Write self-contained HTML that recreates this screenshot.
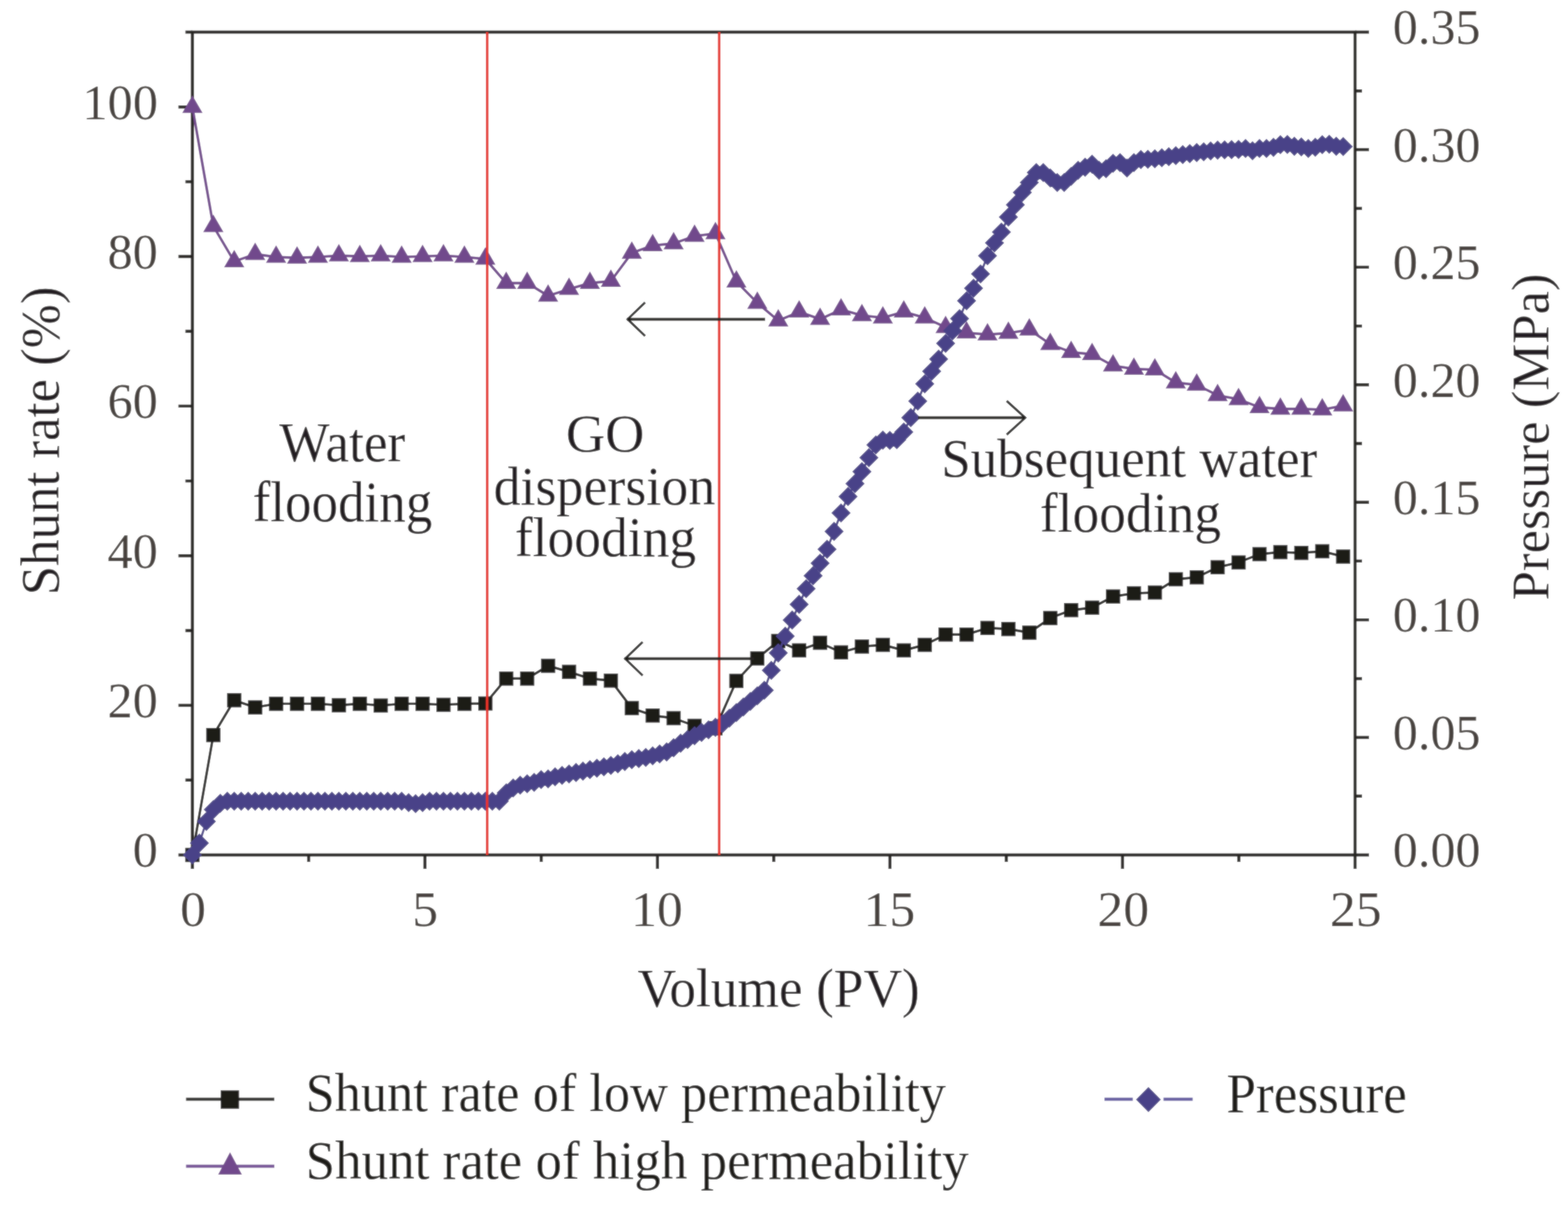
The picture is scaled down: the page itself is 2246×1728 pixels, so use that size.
<!DOCTYPE html>
<html><head><meta charset="utf-8"><title>Shunt rate and pressure vs volume</title>
<style>html,body{margin:0;padding:0;background:#fff}svg{display:block}</style></head>
<body>
<svg width="2246" height="1728" viewBox="0 0 2246 1728" font-family="Liberation Serif, serif">
<defs><filter id="bl" x="0" y="0" width="1" height="1"><feGaussianBlur in="SourceGraphic" stdDeviation="1.0" result="b"/><feComposite in="SourceGraphic" in2="b" operator="arithmetic" k1="0" k2="0.5" k3="0.5" k4="0"/></filter></defs>
<rect width="2246" height="1728" fill="#fff"/>
<g filter="url(#bl)">
<rect width="2246" height="1728" fill="#fff"/>
<path d="M275.6,46.0H1941.0V1225.0H275.6Z" fill="none" stroke="#262420" stroke-width="4.4"/>
<path d="M275.6,1225.0h-20M275.6,1117.8h-10M275.6,1010.6h-20M275.6,903.5h-10M275.6,796.3h-20M275.6,689.1h-10M275.6,581.9h-20M275.6,474.7h-10M275.6,367.5h-20M275.6,260.4h-10M275.6,153.2h-20M275.6,46.0h-10M1941.0,1225.0h20M1941.0,1140.8h10M1941.0,1056.6h20M1941.0,972.4h10M1941.0,888.1h20M1941.0,803.9h10M1941.0,719.7h20M1941.0,635.5h10M1941.0,551.3h20M1941.0,467.1h10M1941.0,382.9h20M1941.0,298.6h10M1941.0,214.4h20M1941.0,130.2h10M1941.0,46.0h20M275.6,1225.0v20M442.1,1225.0v10M608.7,1225.0v20M775.2,1225.0v10M941.8,1225.0v20M1108.3,1225.0v10M1274.8,1225.0v20M1441.4,1225.0v10M1607.9,1225.0v20M1774.5,1225.0v10M1941.0,1225.0v20" stroke="#262420" stroke-width="4.4" fill="none"/>
<polyline points="275.6,1225.0 305.6,1053.2 335.5,1003.3 365.5,1013.6 395.5,1008.4 425.5,1008.4 455.4,1008.4 485.4,1010.5 515.4,1008.4 545.3,1010.9 575.3,1008.4 605.3,1008.4 635.2,1009.9 665.2,1008.4 695.2,1008.0 725.1,972.3 755.1,972.3 785.1,954.0 815.1,962.7 845.0,972.3 875.0,975.2 905.0,1014.6 934.9,1025.2 964.9,1029.0 994.9,1040.0 1024.8,1043.5 1054.8,975.6 1084.8,943.4 1114.8,918.5 1144.7,931.9 1174.7,921.0 1204.7,934.8 1234.6,926.4 1264.6,924.0 1294.6,931.9 1324.6,924.0 1354.5,909.2 1384.5,909.2 1414.5,899.8 1444.4,901.3 1474.4,906.5 1504.4,885.6 1534.3,874.2 1564.3,870.7 1594.3,854.7 1624.2,850.1 1654.2,849.0 1684.2,830.0 1714.2,827.2 1744.1,812.8 1774.1,805.9 1804.1,794.0 1834.0,791.1 1864.0,792.2 1894.0,789.9 1923.9,797.5" fill="none" stroke="#1c1a17" stroke-width="3.4" stroke-linejoin="round"/>
<g fill="#1c1a17"><rect x="265.4" y="1214.8" width="20.4" height="20.4"/><rect x="295.4" y="1043.0" width="20.4" height="20.4"/><rect x="325.3" y="993.1" width="20.4" height="20.4"/><rect x="355.3" y="1003.4" width="20.4" height="20.4"/><rect x="385.3" y="998.2" width="20.4" height="20.4"/><rect x="415.3" y="998.2" width="20.4" height="20.4"/><rect x="445.2" y="998.2" width="20.4" height="20.4"/><rect x="475.2" y="1000.3" width="20.4" height="20.4"/><rect x="505.2" y="998.2" width="20.4" height="20.4"/><rect x="535.1" y="1000.7" width="20.4" height="20.4"/><rect x="565.1" y="998.2" width="20.4" height="20.4"/><rect x="595.1" y="998.2" width="20.4" height="20.4"/><rect x="625.0" y="999.7" width="20.4" height="20.4"/><rect x="655.0" y="998.2" width="20.4" height="20.4"/><rect x="685.0" y="997.8" width="20.4" height="20.4"/><rect x="714.9" y="962.1" width="20.4" height="20.4"/><rect x="744.9" y="962.1" width="20.4" height="20.4"/><rect x="774.9" y="943.8" width="20.4" height="20.4"/><rect x="804.9" y="952.5" width="20.4" height="20.4"/><rect x="834.8" y="962.1" width="20.4" height="20.4"/><rect x="864.8" y="965.0" width="20.4" height="20.4"/><rect x="894.8" y="1004.4" width="20.4" height="20.4"/><rect x="924.7" y="1015.0" width="20.4" height="20.4"/><rect x="954.7" y="1018.8" width="20.4" height="20.4"/><rect x="984.7" y="1029.8" width="20.4" height="20.4"/><rect x="1014.6" y="1033.3" width="20.4" height="20.4"/><rect x="1044.6" y="965.4" width="20.4" height="20.4"/><rect x="1074.6" y="933.2" width="20.4" height="20.4"/><rect x="1104.6" y="908.3" width="20.4" height="20.4"/><rect x="1134.5" y="921.7" width="20.4" height="20.4"/><rect x="1164.5" y="910.8" width="20.4" height="20.4"/><rect x="1194.5" y="924.6" width="20.4" height="20.4"/><rect x="1224.4" y="916.2" width="20.4" height="20.4"/><rect x="1254.4" y="913.8" width="20.4" height="20.4"/><rect x="1284.4" y="921.7" width="20.4" height="20.4"/><rect x="1314.4" y="913.8" width="20.4" height="20.4"/><rect x="1344.3" y="899.0" width="20.4" height="20.4"/><rect x="1374.3" y="899.0" width="20.4" height="20.4"/><rect x="1404.3" y="889.6" width="20.4" height="20.4"/><rect x="1434.2" y="891.1" width="20.4" height="20.4"/><rect x="1464.2" y="896.3" width="20.4" height="20.4"/><rect x="1494.2" y="875.4" width="20.4" height="20.4"/><rect x="1524.1" y="864.0" width="20.4" height="20.4"/><rect x="1554.1" y="860.5" width="20.4" height="20.4"/><rect x="1584.1" y="844.5" width="20.4" height="20.4"/><rect x="1614.0" y="839.9" width="20.4" height="20.4"/><rect x="1644.0" y="838.8" width="20.4" height="20.4"/><rect x="1674.0" y="819.8" width="20.4" height="20.4"/><rect x="1704.0" y="817.0" width="20.4" height="20.4"/><rect x="1733.9" y="802.6" width="20.4" height="20.4"/><rect x="1763.9" y="795.7" width="20.4" height="20.4"/><rect x="1793.9" y="783.8" width="20.4" height="20.4"/><rect x="1823.8" y="780.9" width="20.4" height="20.4"/><rect x="1853.8" y="782.0" width="20.4" height="20.4"/><rect x="1883.8" y="779.7" width="20.4" height="20.4"/><rect x="1913.7" y="787.3" width="20.4" height="20.4"/></g>
<polyline points="275.6,153.5 305.6,324.2 335.5,374.6 365.5,364.1 395.5,368.3 425.5,369.4 455.4,368.3 485.4,366.2 515.4,367.2 545.3,366.2 575.3,368.3 605.3,367.2 635.2,366.2 665.2,368.3 695.2,371.0 725.1,405.6 755.1,405.6 785.1,423.9 815.1,414.2 845.0,405.6 875.0,402.7 905.0,362.4 934.9,351.8 964.9,348.9 994.9,338.3 1024.8,334.5 1054.8,403.6 1084.8,434.1 1114.8,459.4 1144.7,446.8 1174.7,457.3 1204.7,443.6 1234.6,452.0 1264.6,455.2 1294.6,446.8 1324.6,455.2 1354.5,468.9 1384.5,476.7 1414.5,479.4 1444.4,477.2 1474.4,472.5 1504.4,493.1 1534.3,504.6 1564.3,507.6 1594.3,524.0 1624.2,528.6 1654.2,529.8 1684.2,548.1 1714.2,551.5 1744.1,566.4 1774.1,572.1 1804.1,583.6 1834.0,585.9 1864.0,585.9 1894.0,587.0 1923.9,581.2" fill="none" stroke="#71488c" stroke-width="3.6" stroke-linejoin="round"/>
<path fill="#71488c" d="M275.6,136.8L290.1,161.8L261.1,161.8ZM305.6,307.5L320.1,332.5L291.1,332.5ZM335.5,357.9L350.0,382.9L321.0,382.9ZM365.5,347.4L380.0,372.4L351.0,372.4ZM395.5,351.6L410.0,376.6L381.0,376.6ZM425.5,352.7L440.0,377.7L411.0,377.7ZM455.4,351.6L469.9,376.6L440.9,376.6ZM485.4,349.5L499.9,374.5L470.9,374.5ZM515.4,350.5L529.9,375.5L500.9,375.5ZM545.3,349.5L559.8,374.5L530.8,374.5ZM575.3,351.6L589.8,376.6L560.8,376.6ZM605.3,350.5L619.8,375.5L590.8,375.5ZM635.2,349.5L649.7,374.5L620.7,374.5ZM665.2,351.6L679.7,376.6L650.7,376.6ZM695.2,354.3L709.7,379.3L680.7,379.3ZM725.1,388.9L739.6,413.9L710.6,413.9ZM755.1,388.9L769.6,413.9L740.6,413.9ZM785.1,407.2L799.6,432.2L770.6,432.2ZM815.1,397.5L829.6,422.5L800.6,422.5ZM845.0,388.9L859.5,413.9L830.5,413.9ZM875.0,386.0L889.5,411.0L860.5,411.0ZM905.0,345.7L919.5,370.7L890.5,370.7ZM934.9,335.1L949.4,360.1L920.4,360.1ZM964.9,332.2L979.4,357.2L950.4,357.2ZM994.9,321.6L1009.4,346.6L980.4,346.6ZM1024.8,317.8L1039.3,342.8L1010.3,342.8ZM1054.8,386.9L1069.3,411.9L1040.3,411.9ZM1084.8,417.4L1099.3,442.4L1070.3,442.4ZM1114.8,442.7L1129.3,467.7L1100.3,467.7ZM1144.7,430.1L1159.2,455.1L1130.2,455.1ZM1174.7,440.6L1189.2,465.6L1160.2,465.6ZM1204.7,426.9L1219.2,451.9L1190.2,451.9ZM1234.6,435.3L1249.1,460.3L1220.1,460.3ZM1264.6,438.5L1279.1,463.5L1250.1,463.5ZM1294.6,430.1L1309.1,455.1L1280.1,455.1ZM1324.6,438.5L1339.1,463.5L1310.1,463.5ZM1354.5,452.2L1369.0,477.2L1340.0,477.2ZM1384.5,460.0L1399.0,485.0L1370.0,485.0ZM1414.5,462.7L1429.0,487.7L1400.0,487.7ZM1444.4,460.5L1458.9,485.5L1429.9,485.5ZM1474.4,455.8L1488.9,480.8L1459.9,480.8ZM1504.4,476.4L1518.9,501.4L1489.9,501.4ZM1534.3,487.9L1548.8,512.9L1519.8,512.9ZM1564.3,490.9L1578.8,515.9L1549.8,515.9ZM1594.3,507.3L1608.8,532.3L1579.8,532.3ZM1624.2,511.9L1638.8,536.9L1609.8,536.9ZM1654.2,513.1L1668.7,538.1L1639.7,538.1ZM1684.2,531.4L1698.7,556.4L1669.7,556.4ZM1714.2,534.8L1728.7,559.8L1699.7,559.8ZM1744.1,549.7L1758.6,574.7L1729.6,574.7ZM1774.1,555.4L1788.6,580.4L1759.6,580.4ZM1804.1,566.9L1818.6,591.9L1789.6,591.9ZM1834.0,569.2L1848.5,594.2L1819.5,594.2ZM1864.0,569.2L1878.5,594.2L1849.5,594.2ZM1894.0,570.3L1908.5,595.3L1879.5,595.3ZM1923.9,564.5L1938.4,589.5L1909.4,589.5Z"/>
<polyline points="275.6,1225.0 285.6,1208.0 295.6,1177.0 305.6,1160.0 315.6,1151.0 325.6,1148.0 335.5,1148.0 345.5,1148.0 355.5,1148.0 365.5,1148.0 375.5,1148.0 385.5,1148.0 395.5,1148.0 405.5,1148.0 415.5,1148.0 425.5,1148.0 435.4,1148.0 445.4,1148.0 455.4,1148.0 465.4,1148.0 475.4,1148.0 485.4,1148.0 495.4,1148.0 505.4,1148.0 515.4,1148.0 525.4,1148.0 535.3,1148.0 545.3,1148.0 555.3,1148.0 565.3,1148.0 575.3,1148.0 585.3,1150.0 595.3,1151.5 605.3,1150.0 615.3,1148.0 625.2,1148.0 635.2,1148.0 645.2,1148.0 655.2,1148.0 665.2,1148.0 675.2,1148.0 685.2,1148.0 695.2,1148.0 705.2,1148.0 715.2,1148.0 725.2,1136.0 735.1,1129.0 745.1,1125.0 755.1,1123.0 765.1,1121.0 775.1,1117.0 785.1,1116.0 795.1,1113.0 805.1,1111.0 815.1,1109.0 825.1,1106.9 835.0,1104.9 845.0,1102.8 855.0,1100.8 865.0,1098.7 875.0,1096.7 885.0,1094.4 895.0,1091.1 905.0,1088.5 915.0,1086.9 925.0,1085.3 934.9,1083.0 944.9,1080.2 954.9,1077.4 964.9,1071.4 974.9,1064.9 984.9,1059.6 994.9,1054.3 1004.9,1049.4 1014.9,1045.8 1024.8,1042.1 1034.8,1037.0 1044.8,1029.0 1054.8,1021.0 1064.8,1013.0 1074.8,1005.0 1084.8,997.0 1094.8,989.0 1104.8,960.5 1114.8,935.6 1124.8,911.6 1134.7,888.4 1144.7,865.9 1154.7,843.5 1164.7,824.9 1174.7,807.1 1184.7,787.0 1194.7,761.4 1204.7,735.0 1214.7,711.4 1224.7,692.9 1234.6,675.7 1244.6,655.7 1254.6,637.5 1264.6,630.6 1274.6,631.0 1284.6,630.0 1294.6,619.0 1304.6,598.4 1314.6,574.8 1324.6,550.0 1334.5,532.0 1344.5,514.5 1354.5,492.0 1364.5,474.0 1374.5,456.5 1384.5,431.0 1394.5,413.0 1404.5,392.5 1414.5,366.5 1424.5,348.0 1434.4,332.5 1444.4,311.0 1454.4,293.4 1464.4,275.8 1474.4,261.5 1484.4,247.3 1494.4,247.3 1504.4,255.0 1514.4,261.5 1524.3,261.5 1534.3,252.7 1544.3,244.0 1554.3,239.6 1564.3,235.2 1574.3,244.0 1584.3,241.8 1594.3,234.0 1604.3,233.0 1614.3,240.7 1624.2,233.0 1634.2,228.6 1644.2,228.2 1654.2,227.5 1664.2,226.0 1674.2,224.5 1684.2,223.0 1694.2,221.5 1704.2,220.1 1714.2,218.6 1724.2,217.5 1734.1,216.3 1744.1,215.1 1754.1,214.8 1764.1,214.4 1774.1,214.1 1784.1,212.7 1794.1,216.0 1804.1,212.7 1814.1,212.7 1824.1,211.1 1834.0,207.2 1844.0,207.0 1854.0,209.6 1864.0,210.5 1874.0,212.7 1884.0,211.0 1894.0,207.2 1904.0,206.8 1914.0,209.6 1924.0,210.0" fill="none" stroke="#4a4388" stroke-width="3"/>
<path fill="#4a4388" d="M275.6,1211.2L289.4,1225.0L275.6,1238.8L261.8,1225.0ZM285.6,1194.2L299.4,1208.0L285.6,1221.8L271.8,1208.0ZM295.6,1163.2L309.4,1177.0L295.6,1190.8L281.8,1177.0ZM305.6,1146.2L319.4,1160.0L305.6,1173.8L291.8,1160.0ZM315.6,1137.2L329.4,1151.0L315.6,1164.8L301.8,1151.0ZM325.6,1134.2L339.4,1148.0L325.6,1161.8L311.8,1148.0ZM335.5,1134.2L349.3,1148.0L335.5,1161.8L321.7,1148.0ZM345.5,1134.2L359.3,1148.0L345.5,1161.8L331.7,1148.0ZM355.5,1134.2L369.3,1148.0L355.5,1161.8L341.7,1148.0ZM365.5,1134.2L379.3,1148.0L365.5,1161.8L351.7,1148.0ZM375.5,1134.2L389.3,1148.0L375.5,1161.8L361.7,1148.0ZM385.5,1134.2L399.3,1148.0L385.5,1161.8L371.7,1148.0ZM395.5,1134.2L409.3,1148.0L395.5,1161.8L381.7,1148.0ZM405.5,1134.2L419.3,1148.0L405.5,1161.8L391.7,1148.0ZM415.5,1134.2L429.3,1148.0L415.5,1161.8L401.7,1148.0ZM425.5,1134.2L439.3,1148.0L425.5,1161.8L411.7,1148.0ZM435.4,1134.2L449.2,1148.0L435.4,1161.8L421.6,1148.0ZM445.4,1134.2L459.2,1148.0L445.4,1161.8L431.6,1148.0ZM455.4,1134.2L469.2,1148.0L455.4,1161.8L441.6,1148.0ZM465.4,1134.2L479.2,1148.0L465.4,1161.8L451.6,1148.0ZM475.4,1134.2L489.2,1148.0L475.4,1161.8L461.6,1148.0ZM485.4,1134.2L499.2,1148.0L485.4,1161.8L471.6,1148.0ZM495.4,1134.2L509.2,1148.0L495.4,1161.8L481.6,1148.0ZM505.4,1134.2L519.2,1148.0L505.4,1161.8L491.6,1148.0ZM515.4,1134.2L529.2,1148.0L515.4,1161.8L501.6,1148.0ZM525.4,1134.2L539.1,1148.0L525.4,1161.8L511.6,1148.0ZM535.3,1134.2L549.1,1148.0L535.3,1161.8L521.5,1148.0ZM545.3,1134.2L559.1,1148.0L545.3,1161.8L531.5,1148.0ZM555.3,1134.2L569.1,1148.0L555.3,1161.8L541.5,1148.0ZM565.3,1134.2L579.1,1148.0L565.3,1161.8L551.5,1148.0ZM575.3,1134.2L589.1,1148.0L575.3,1161.8L561.5,1148.0ZM585.3,1136.2L599.1,1150.0L585.3,1163.8L571.5,1150.0ZM595.3,1137.7L609.1,1151.5L595.3,1165.3L581.5,1151.5ZM605.3,1136.2L619.1,1150.0L605.3,1163.8L591.5,1150.0ZM615.3,1134.2L629.1,1148.0L615.3,1161.8L601.5,1148.0ZM625.2,1134.2L639.0,1148.0L625.2,1161.8L611.5,1148.0ZM635.2,1134.2L649.0,1148.0L635.2,1161.8L621.4,1148.0ZM645.2,1134.2L659.0,1148.0L645.2,1161.8L631.4,1148.0ZM655.2,1134.2L669.0,1148.0L655.2,1161.8L641.4,1148.0ZM665.2,1134.2L679.0,1148.0L665.2,1161.8L651.4,1148.0ZM675.2,1134.2L689.0,1148.0L675.2,1161.8L661.4,1148.0ZM685.2,1134.2L699.0,1148.0L685.2,1161.8L671.4,1148.0ZM695.2,1134.2L709.0,1148.0L695.2,1161.8L681.4,1148.0ZM705.2,1134.2L719.0,1148.0L705.2,1161.8L691.4,1148.0ZM715.2,1134.2L729.0,1148.0L715.2,1161.8L701.4,1148.0ZM725.2,1122.2L739.0,1136.0L725.2,1149.8L711.4,1136.0ZM735.1,1115.2L748.9,1129.0L735.1,1142.8L721.3,1129.0ZM745.1,1111.2L758.9,1125.0L745.1,1138.8L731.3,1125.0ZM755.1,1109.2L768.9,1123.0L755.1,1136.8L741.3,1123.0ZM765.1,1107.2L778.9,1121.0L765.1,1134.8L751.3,1121.0ZM775.1,1103.2L788.9,1117.0L775.1,1130.8L761.3,1117.0ZM785.1,1102.2L798.9,1116.0L785.1,1129.8L771.3,1116.0ZM795.1,1099.2L808.9,1113.0L795.1,1126.8L781.3,1113.0ZM805.1,1097.2L818.9,1111.0L805.1,1124.8L791.3,1111.0ZM815.1,1095.2L828.9,1109.0L815.1,1122.8L801.3,1109.0ZM825.1,1093.1L838.9,1106.9L825.1,1120.7L811.3,1106.9ZM835.0,1091.1L848.8,1104.9L835.0,1118.7L821.2,1104.9ZM845.0,1089.0L858.8,1102.8L845.0,1116.6L831.2,1102.8ZM855.0,1087.0L868.8,1100.8L855.0,1114.6L841.2,1100.8ZM865.0,1084.9L878.8,1098.7L865.0,1112.5L851.2,1098.7ZM875.0,1082.9L888.8,1096.7L875.0,1110.5L861.2,1096.7ZM885.0,1080.6L898.8,1094.4L885.0,1108.2L871.2,1094.4ZM895.0,1077.3L908.8,1091.1L895.0,1104.9L881.2,1091.1ZM905.0,1074.7L918.8,1088.5L905.0,1102.3L891.2,1088.5ZM915.0,1073.1L928.8,1086.9L915.0,1100.7L901.2,1086.9ZM925.0,1071.5L938.8,1085.3L925.0,1099.1L911.2,1085.3ZM934.9,1069.2L948.7,1083.0L934.9,1096.8L921.1,1083.0ZM944.9,1066.4L958.7,1080.2L944.9,1094.0L931.1,1080.2ZM954.9,1063.6L968.7,1077.4L954.9,1091.2L941.1,1077.4ZM964.9,1057.6L978.7,1071.4L964.9,1085.2L951.1,1071.4ZM974.9,1051.1L988.7,1064.9L974.9,1078.7L961.1,1064.9ZM984.9,1045.8L998.7,1059.6L984.9,1073.4L971.1,1059.6ZM994.9,1040.5L1008.7,1054.3L994.9,1068.1L981.1,1054.3ZM1004.9,1035.6L1018.7,1049.4L1004.9,1063.2L991.1,1049.4ZM1014.9,1032.0L1028.7,1045.8L1014.9,1059.6L1001.1,1045.8ZM1024.8,1028.3L1038.6,1042.1L1024.8,1055.9L1011.0,1042.1ZM1034.8,1023.2L1048.6,1037.0L1034.8,1050.8L1021.0,1037.0ZM1044.8,1015.2L1058.6,1029.0L1044.8,1042.8L1031.0,1029.0ZM1054.8,1007.2L1068.6,1021.0L1054.8,1034.8L1041.0,1021.0ZM1064.8,999.2L1078.6,1013.0L1064.8,1026.8L1051.0,1013.0ZM1074.8,991.2L1088.6,1005.0L1074.8,1018.8L1061.0,1005.0ZM1084.8,983.2L1098.6,997.0L1084.8,1010.8L1071.0,997.0ZM1094.8,975.2L1108.6,989.0L1094.8,1002.8L1081.0,989.0ZM1104.8,946.7L1118.6,960.5L1104.8,974.3L1091.0,960.5ZM1114.8,921.8L1128.6,935.6L1114.8,949.4L1101.0,935.6ZM1124.8,897.8L1138.5,911.6L1124.8,925.4L1111.0,911.6ZM1134.7,874.6L1148.5,888.4L1134.7,902.2L1120.9,888.4ZM1144.7,852.1L1158.5,865.9L1144.7,879.7L1130.9,865.9ZM1154.7,829.7L1168.5,843.5L1154.7,857.3L1140.9,843.5ZM1164.7,811.1L1178.5,824.9L1164.7,838.7L1150.9,824.9ZM1174.7,793.3L1188.5,807.1L1174.7,820.9L1160.9,807.1ZM1184.7,773.2L1198.5,787.0L1184.7,800.8L1170.9,787.0ZM1194.7,747.6L1208.5,761.4L1194.7,775.2L1180.9,761.4ZM1204.7,721.2L1218.5,735.0L1204.7,748.8L1190.9,735.0ZM1214.7,697.6L1228.5,711.4L1214.7,725.2L1200.9,711.4ZM1224.7,679.1L1238.5,692.9L1224.7,706.7L1210.9,692.9ZM1234.6,661.9L1248.4,675.7L1234.6,689.5L1220.8,675.7ZM1244.6,641.9L1258.4,655.7L1244.6,669.5L1230.8,655.7ZM1254.6,623.7L1268.4,637.5L1254.6,651.3L1240.8,637.5ZM1264.6,616.8L1278.4,630.6L1264.6,644.4L1250.8,630.6ZM1274.6,617.2L1288.4,631.0L1274.6,644.8L1260.8,631.0ZM1284.6,616.2L1298.4,630.0L1284.6,643.8L1270.8,630.0ZM1294.6,605.2L1308.4,619.0L1294.6,632.8L1280.8,619.0ZM1304.6,584.6L1318.4,598.4L1304.6,612.2L1290.8,598.4ZM1314.6,561.0L1328.4,574.8L1314.6,588.6L1300.8,574.8ZM1324.6,536.2L1338.4,550.0L1324.6,563.8L1310.8,550.0ZM1334.5,518.2L1348.3,532.0L1334.5,545.8L1320.7,532.0ZM1344.5,500.7L1358.3,514.5L1344.5,528.3L1330.7,514.5ZM1354.5,478.2L1368.3,492.0L1354.5,505.8L1340.7,492.0ZM1364.5,460.2L1378.3,474.0L1364.5,487.8L1350.7,474.0ZM1374.5,442.7L1388.3,456.5L1374.5,470.3L1360.7,456.5ZM1384.5,417.2L1398.3,431.0L1384.5,444.8L1370.7,431.0ZM1394.5,399.2L1408.3,413.0L1394.5,426.8L1380.7,413.0ZM1404.5,378.7L1418.3,392.5L1404.5,406.3L1390.7,392.5ZM1414.5,352.7L1428.3,366.5L1414.5,380.3L1400.7,366.5ZM1424.5,334.2L1438.3,348.0L1424.5,361.8L1410.7,348.0ZM1434.4,318.7L1448.2,332.5L1434.4,346.3L1420.6,332.5ZM1444.4,297.2L1458.2,311.0L1444.4,324.8L1430.6,311.0ZM1454.4,279.6L1468.2,293.4L1454.4,307.2L1440.6,293.4ZM1464.4,262.0L1478.2,275.8L1464.4,289.6L1450.6,275.8ZM1474.4,247.7L1488.2,261.5L1474.4,275.3L1460.6,261.5ZM1484.4,233.5L1498.2,247.3L1484.4,261.1L1470.6,247.3ZM1494.4,233.5L1508.2,247.3L1494.4,261.1L1480.6,247.3ZM1504.4,241.2L1518.2,255.0L1504.4,268.8L1490.6,255.0ZM1514.4,247.7L1528.2,261.5L1514.4,275.3L1500.6,261.5ZM1524.3,247.7L1538.1,261.5L1524.3,275.3L1510.5,261.5ZM1534.3,238.9L1548.1,252.7L1534.3,266.5L1520.5,252.7ZM1544.3,230.2L1558.1,244.0L1544.3,257.8L1530.5,244.0ZM1554.3,225.8L1568.1,239.6L1554.3,253.4L1540.5,239.6ZM1564.3,221.4L1578.1,235.2L1564.3,249.0L1550.5,235.2ZM1574.3,230.2L1588.1,244.0L1574.3,257.8L1560.5,244.0ZM1584.3,228.0L1598.1,241.8L1584.3,255.6L1570.5,241.8ZM1594.3,220.2L1608.1,234.0L1594.3,247.8L1580.5,234.0ZM1604.3,219.2L1618.1,233.0L1604.3,246.8L1590.5,233.0ZM1614.3,226.9L1628.1,240.7L1614.3,254.5L1600.5,240.7ZM1624.2,219.2L1638.0,233.0L1624.2,246.8L1610.5,233.0ZM1634.2,214.8L1648.0,228.6L1634.2,242.4L1620.4,228.6ZM1644.2,214.4L1658.0,228.2L1644.2,242.0L1630.4,228.2ZM1654.2,213.7L1668.0,227.5L1654.2,241.3L1640.4,227.5ZM1664.2,212.2L1678.0,226.0L1664.2,239.8L1650.4,226.0ZM1674.2,210.7L1688.0,224.5L1674.2,238.3L1660.4,224.5ZM1684.2,209.2L1698.0,223.0L1684.2,236.8L1670.4,223.0ZM1694.2,207.7L1708.0,221.5L1694.2,235.3L1680.4,221.5ZM1704.2,206.3L1718.0,220.1L1704.2,233.9L1690.4,220.1ZM1714.2,204.8L1728.0,218.6L1714.2,232.4L1700.4,218.6ZM1724.2,203.7L1738.0,217.5L1724.2,231.3L1710.4,217.5ZM1734.1,202.5L1747.9,216.3L1734.1,230.1L1720.3,216.3ZM1744.1,201.3L1757.9,215.1L1744.1,228.9L1730.3,215.1ZM1754.1,201.0L1767.9,214.8L1754.1,228.6L1740.3,214.8ZM1764.1,200.6L1777.9,214.4L1764.1,228.2L1750.3,214.4ZM1774.1,200.3L1787.9,214.1L1774.1,227.9L1760.3,214.1ZM1784.1,198.9L1797.9,212.7L1784.1,226.5L1770.3,212.7ZM1794.1,202.2L1807.9,216.0L1794.1,229.8L1780.3,216.0ZM1804.1,198.9L1817.9,212.7L1804.1,226.5L1790.3,212.7ZM1814.1,198.9L1827.9,212.7L1814.1,226.5L1800.3,212.7ZM1824.1,197.3L1837.9,211.1L1824.1,224.9L1810.3,211.1ZM1834.0,193.4L1847.8,207.2L1834.0,221.0L1820.2,207.2ZM1844.0,193.2L1857.8,207.0L1844.0,220.8L1830.2,207.0ZM1854.0,195.8L1867.8,209.6L1854.0,223.4L1840.2,209.6ZM1864.0,196.7L1877.8,210.5L1864.0,224.3L1850.2,210.5ZM1874.0,198.9L1887.8,212.7L1874.0,226.5L1860.2,212.7ZM1884.0,197.2L1897.8,211.0L1884.0,224.8L1870.2,211.0ZM1894.0,193.4L1907.8,207.2L1894.0,221.0L1880.2,207.2ZM1904.0,193.0L1917.8,206.8L1904.0,220.6L1890.2,206.8ZM1914.0,195.8L1927.8,209.6L1914.0,223.4L1900.2,209.6ZM1924.0,196.2L1937.8,210.0L1924.0,223.8L1910.2,210.0Z"/>
<line x1="697.8" y1="46.0" x2="697.8" y2="1225.0" stroke="#e5332a" stroke-width="3.6"/>
<line x1="1030.2" y1="46.0" x2="1030.2" y2="1225.0" stroke="#e5332a" stroke-width="3.6"/>
<path d="M1096,457.4H898" stroke="#262420" stroke-width="4" fill="none"/><path d="M924,433.4L899,457.4L924,481.4" stroke="#1c1a17" stroke-width="3.2" fill="none" stroke-linejoin="miter"/>
<path d="M1080,943.8H894.5" stroke="#262420" stroke-width="4" fill="none"/><path d="M920.5,919.8L895.5,943.8L920.5,967.8" stroke="#1c1a17" stroke-width="3.2" fill="none" stroke-linejoin="miter"/>
<path d="M1315,598.6H1469" stroke="#262420" stroke-width="4" fill="none"/>
<path d="M1442,574.5L1468.5,598.6L1442,622.7" stroke="#1c1a17" stroke-width="3.2" fill="none"/>
<text x="190.1" y="1242.3" font-size="72.77" textLength="36.1" lengthAdjust="spacingAndGlyphs" fill="#46413c">0</text>
<text x="154.0" y="1027.9" font-size="72.77" textLength="72.1" lengthAdjust="spacingAndGlyphs" fill="#46413c">20</text>
<text x="154.0" y="813.6" font-size="72.77" textLength="72.2" lengthAdjust="spacingAndGlyphs" fill="#46413c">40</text>
<text x="154.0" y="599.2" font-size="72.77" textLength="72.1" lengthAdjust="spacingAndGlyphs" fill="#46413c">60</text>
<text x="154.0" y="384.8" font-size="72.77" textLength="72.1" lengthAdjust="spacingAndGlyphs" fill="#46413c">80</text>
<text x="118.0" y="170.5" font-size="72.77" textLength="108.2" lengthAdjust="spacingAndGlyphs" fill="#46413c">100</text>
<text x="1995.1" y="1242.3" font-size="72.77" textLength="125.6" lengthAdjust="spacingAndGlyphs" fill="#46413c">0.00</text>
<text x="1995.1" y="1073.9" font-size="72.77" textLength="125.6" lengthAdjust="spacingAndGlyphs" fill="#46413c">0.05</text>
<text x="1995.1" y="905.4" font-size="72.77" textLength="125.6" lengthAdjust="spacingAndGlyphs" fill="#46413c">0.10</text>
<text x="1995.1" y="737.0" font-size="72.77" textLength="125.6" lengthAdjust="spacingAndGlyphs" fill="#46413c">0.15</text>
<text x="1995.1" y="568.6" font-size="72.77" textLength="125.6" lengthAdjust="spacingAndGlyphs" fill="#46413c">0.20</text>
<text x="1995.1" y="400.2" font-size="72.77" textLength="125.6" lengthAdjust="spacingAndGlyphs" fill="#46413c">0.25</text>
<text x="1995.1" y="231.7" font-size="72.77" textLength="125.6" lengthAdjust="spacingAndGlyphs" fill="#46413c">0.30</text>
<text x="1995.1" y="63.3" font-size="72.77" textLength="125.6" lengthAdjust="spacingAndGlyphs" fill="#46413c">0.35</text>
<text x="258.1" y="1327.0" font-size="72.77" textLength="37.0" lengthAdjust="spacingAndGlyphs" fill="#46413c">0</text>
<text x="590.4" y="1327.0" font-size="72.77" textLength="37.0" lengthAdjust="spacingAndGlyphs" fill="#46413c">5</text>
<text x="903.9" y="1327.0" font-size="72.77" textLength="74.0" lengthAdjust="spacingAndGlyphs" fill="#46413c">10</text>
<text x="1237.0" y="1327.0" font-size="72.77" textLength="74.0" lengthAdjust="spacingAndGlyphs" fill="#46413c">15</text>
<text x="1571.9" y="1327.0" font-size="72.77" textLength="74.0" lengthAdjust="spacingAndGlyphs" fill="#46413c">20</text>
<text x="1905.0" y="1327.0" font-size="72.77" textLength="74.0" lengthAdjust="spacingAndGlyphs" fill="#46413c">25</text>
<text x="913.3" y="1441.6" font-size="79.08" textLength="404.3" lengthAdjust="spacingAndGlyphs" fill="#231f20">Volume (PV)</text>
<g transform="translate(84.3,847.8) rotate(-90)"><text x="-5.3" y="0.0" font-size="79.23" textLength="442.7" lengthAdjust="spacingAndGlyphs" fill="#231f20">Shunt rate (%)</text></g>
<g transform="translate(2217.5,858.0) rotate(-90)"><text x="-2.3" y="0.0" font-size="76.92" textLength="468.6" lengthAdjust="spacingAndGlyphs" fill="#231f20">Pressure (MPa)</text></g>
<text x="400.0" y="660.6" font-size="81.23" textLength="180.5" lengthAdjust="spacingAndGlyphs" fill="#231f20">Water</text>
<text x="361.9" y="747.0" font-size="82.75" textLength="257.2" lengthAdjust="spacingAndGlyphs" fill="#231f20">flooding</text>
<text x="810.5" y="646.5" font-size="76.92" textLength="112.6" lengthAdjust="spacingAndGlyphs" fill="#231f20">GO</text>
<text x="706.9" y="722.5" font-size="78.99" textLength="317.7" lengthAdjust="spacingAndGlyphs" fill="#231f20">dispersion</text>
<text x="737.4" y="796.5" font-size="80.43" textLength="259.8" lengthAdjust="spacingAndGlyphs" fill="#231f20">flooding</text>
<text x="1348.2" y="682.7" font-size="78.46" textLength="538.7" lengthAdjust="spacingAndGlyphs" fill="#231f20">Subsequent water</text>
<text x="1489.5" y="762.3" font-size="79.42" textLength="259.5" lengthAdjust="spacingAndGlyphs" fill="#231f20">flooding</text>
<path d="M266.5,1575H393" stroke="#33312e" stroke-width="4.4"/>
<rect x="316" y="1562.3" width="26.4" height="26.4" fill="#1c1a17"/>
<path d="M266.5,1671H393" stroke="#7a579a" stroke-width="4.4"/>
<path d="M329.5,1651L346.5,1683L312.5,1683Z" fill="#71488c"/>
<path d="M1582,1575H1622.6M1666.6,1575H1708.4" stroke="#675fa3" stroke-width="4.6"/>
<path d="M1645,1557.5L1662.8,1575.5L1645,1593.5L1627.2,1575.5Z" fill="#4a4388"/>
<text x="437.7" y="1592.0" font-size="79.23" textLength="917.2" lengthAdjust="spacingAndGlyphs" fill="#1d1c19">Shunt rate of low permeability</text>
<text x="437.7" y="1688.5" font-size="78.46" textLength="949.9" lengthAdjust="spacingAndGlyphs" fill="#1d1c19">Shunt rate of high permeability</text>
<text x="1756.7" y="1593.6" font-size="81.08" textLength="258.5" lengthAdjust="spacingAndGlyphs" fill="#1d1c19">Pressure</text>
</g>
</svg>
</body></html>
